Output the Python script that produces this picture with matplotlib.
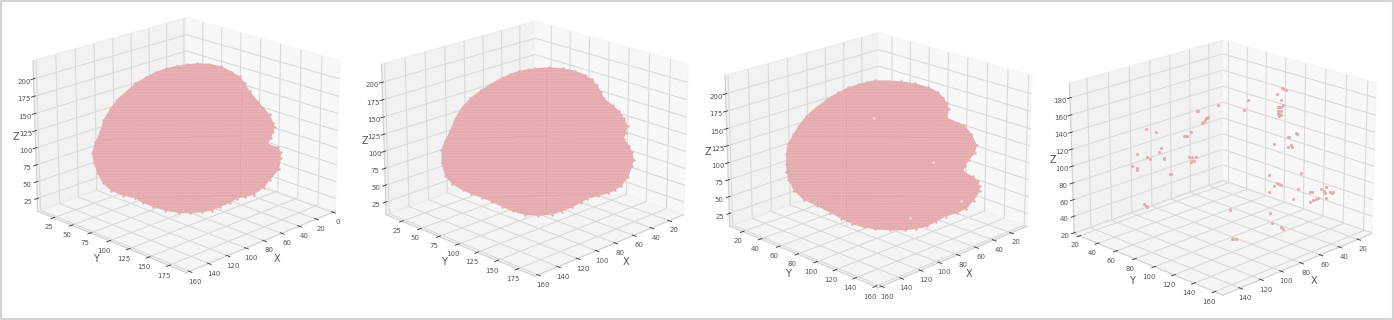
import matplotlib
matplotlib.use("Agg")
import matplotlib.pyplot as plt
from matplotlib.patches import Rectangle
from mpl_toolkits.mplot3d.art3d import Poly3DCollection

W, H = 1394, 320
BLOB_COLOR = "#e5abae"
SPECKLE_COLOR = "#eec6c8"
SEAM_COLOR = "#df9ea2"
TEXT_COLOR = "#555555"

# contours des masses pleines
BLOB1_X = [80, 74, 67, 60, 54, 49, 46, 43, 38, 35, 31, 29, 28, 29, 30, 32, 26, 24, 24, 25, 30, 34, 40, 45, 50, 54, 60, 65, 71, 78, 85, 93, 100, 106, 111, 118, 125, 130, 133, 135, 136, 134, 131, 129, 125, 121, 115, 110, 104, 98, 92, 86]
BLOB1_Y = [100, 106, 113, 120, 126, 131, 134, 137, 142, 145, 149, 151, 152, 151, 150, 148, 154, 156, 156, 155, 150, 146, 140, 135, 130, 126, 120, 115, 109, 102, 95, 87, 80, 74, 69, 62, 55, 50, 47, 45, 44, 46, 49, 51, 55, 59, 65, 70, 76, 82, 88, 94]
BLOB1_Z = [221, 222, 221, 217, 209, 202, 192, 180, 165, 156, 146, 134, 127, 120, 111, 103, 98, 90, 81, 65, 50, 38, 28, 25, 23, 17, 11, 6, 4, 3, 4, 8, 14, 20, 28, 32, 40, 52, 67, 82, 96, 112, 127, 144, 159, 173, 185, 196, 204, 211, 216, 219]

BLOB2_X = [82, 74, 66, 59, 53, 49, 46, 44, 42, 37, 33, 30, 28, 29, 30, 27, 25, 24, 25, 27, 31, 35, 39, 45, 51, 55, 60, 66, 72, 80, 88, 95, 101, 107, 113, 119, 124, 130, 134, 136, 136, 134, 131, 128, 124, 119, 113, 107, 101, 96, 91, 86]
BLOB2_Y = [98, 106, 114, 121, 127, 131, 134, 136, 138, 143, 147, 150, 152, 151, 150, 153, 155, 156, 155, 153, 149, 145, 141, 135, 129, 125, 120, 114, 108, 100, 92, 85, 79, 73, 67, 61, 56, 50, 46, 44, 44, 46, 49, 52, 56, 61, 67, 73, 79, 84, 89, 94]
BLOB2_Z = [219, 220, 218, 214, 208, 201, 192, 183, 173, 163, 154, 143, 132, 122, 113, 103, 93, 82, 72, 57, 43, 37, 33, 29, 26, 20, 14, 8, 4, 3, 5, 11, 18, 26, 33, 39, 45, 55, 67, 86, 105, 118, 132, 150, 166, 179, 190, 199, 207, 212, 216, 218]

BLOB3_X = [84, 77, 70, 63, 56, 51, 48, 46, 45, 46, 37, 33, 30, 31, 34, 36, 37, 32, 29, 28, 28, 31, 35, 40, 46, 51, 56, 62, 68, 76, 84, 90, 96, 102, 108, 115, 122, 127, 130, 131, 131, 131, 130, 127, 124, 120, 115, 109, 103, 98, 92, 88]
BLOB3_Y = [82, 89, 96, 103, 110, 115, 118, 120, 121, 120, 129, 133, 136, 135, 132, 130, 129, 134, 137, 138, 138, 135, 131, 126, 120, 115, 110, 104, 98, 90, 82, 76, 70, 64, 58, 51, 44, 39, 36, 35, 35, 35, 36, 39, 42, 46, 51, 57, 63, 68, 74, 78]
BLOB3_Z = [219, 219, 218, 215, 210, 203, 195, 187, 178, 166, 156, 143, 127, 115, 105, 96, 88, 81, 74, 66, 59, 45, 33, 26, 21, 13, 6, 2, 0, 0, 1, 4, 9, 17, 26, 36, 45, 58, 74, 86, 98, 113, 127, 141, 154, 168, 180, 192, 202, 209, 214, 217]

# trous visibles dans la troisième masse
HOLES3_X = [53, 38, 65, 84.5]
HOLES3_Y = [113, 128, 101, 81.5]
HOLES3_Z = [101.5, 45, 18, 165]

# lignes sombres qui traversent les masses : (x début, x fin, y début, y fin, z début, z fin)
SEAMS1 = [(48, 48, 132, 132, 183, 26), (131, 48, 49, 132, 116, 116), (110, 48, 70, 132, 28, 28)]
SEAMS2 = [(75, 75, 105, 105, 214, 4), (131, 75, 49, 105, 121, 121), (109, 47, 71, 133, 33, 33)]
SEAMS3 = [(99, 99, 67, 67, 204, 6), (127, 37, 39, 129, 138, 138), (106, 35, 60, 131, 50, 50)]

# petits amas du dernier panneau
SPOTS_X = [90.9, 90.1, 89.3, 88.4, 88, 90.4, 88.9, 93.4, 92.9, 82.8, 118.9, 114.1, 96.7, 99.2, 100, 98.7, 111.6, 112.5, 123.9, 118.6, 117.4, 110.5, 110.5, 126.7, 124, 124, 107.5, 107, 97.6, 95.9, 94.2, 96.7, 95.9, 95.1, 120.7, 119.9, 119.2, 76.9, 85.2, 84, 86, 67.8, 70.1, 53.2, 52.4, 51.5, 53.2, 52.4, 51.5, 53.2, 52.4, 51.5, 52.4, 50.4, 51.2, 50.4, 49.2, 53.8, 51.5, 43.7, 43.2, 47.6, 47.1, 54.8, 47.9, 46.2, 45.9, 57.2, 40.8, 53.2, 52.2, 51.2, 57.3, 54.5, 42.6, 44.9, 36.3, 35.5, 30.5, 29.3, 28.8, 26, 25, 24.4, 32.3, 33.3, 34.6, 36, 28.3, 28, 56.7, 55.3, 50.9, 50]
SPOTS_Y = [80.6, 81.4, 82.2, 83.1, 83.5, 81.1, 82.6, 78.1, 78.6, 88.7, 52.6, 57.4, 74.8, 72.3, 71.5, 72.8, 59.9, 59, 47.6, 52.9, 54.1, 61, 61, 44.8, 47.5, 47.5, 64, 64.5, 73.9, 75.6, 77.3, 74.8, 75.6, 76.4, 50.8, 51.6, 52.3, 94.6, 106.3, 107.5, 105.5, 103.7, 101.4, 118.3, 119.1, 120, 118.3, 119.1, 120, 118.3, 119.1, 120, 119.1, 121.1, 120.3, 121.1, 122.3, 117.7, 120, 127.8, 128.3, 123.9, 124.4, 116.7, 123.6, 125.3, 125.6, 114.3, 130.7, 118.3, 119.3, 120.3, 114.2, 117, 128.9, 126.6, 135.2, 136, 141, 142.2, 142.7, 145.5, 146.5, 147.1, 139.2, 138.2, 136.9, 135.5, 143.2, 143.5, 114.8, 116.2, 120.5, 121.5]
SPOTS_Z = [150.6, 152.5, 154.5, 156.4, 158, 151.8, 156.4, 165, 165, 171.3, 144.7, 140.8, 140.8, 135.7, 135.7, 136.1, 122.1, 117.4, 114.3, 111.5, 108.4, 109.6, 108.4, 100.6, 97.8, 95.9, 91.6, 90.8, 111.5, 111.5, 111.5, 105.7, 106.4, 106.4, 54.9, 53.3, 51.8, 47.8, 21.9, 21.1, 21.9, 177.9, 165.8, 168.9, 168.9, 168.9, 165, 165, 164.3, 161.1, 161.1, 159.6, 158.4, 171.3, 191.6, 190.4, 189.3, 184.2, 176.8, 138.9, 137.7, 133.8, 133.8, 126, 122.8, 124.4, 122.8, 90, 91.6, 80.3, 79.1, 77.5, 69.7, 76.4, 72.5, 60.7, 68.5, 68.5, 72.5, 69.7, 67.4, 68.5, 67.4, 68.5, 61.9, 60.3, 58.8, 56.4, 61.9, 74.4, 43.9, 31.4, 26.8, 24.4]

plt.rcParams["font.family"] = "DejaVu Sans"
plt.rcParams["grid.color"] = "#d9d9d9"
plt.rcParams["grid.linewidth"] = 0.8
plt.rcParams["xtick.labelcolor"] = TEXT_COLOR
plt.rcParams["ytick.labelcolor"] = TEXT_COLOR
plt.rcParams["xtick.major.width"] = 0.6
plt.rcParams["ytick.major.width"] = 0.6
plt.rcParams["xtick.color"] = "#333333"
plt.rcParams["ytick.color"] = "#333333"
plt.rcParams["hatch.linewidth"] = 0.3


def make_panel(fig, left, bottom, xlim, ylim, zlim, xticks, yticks, zticks):
    size = 332 / W
    ax = fig.add_axes([left / W, bottom / H, size, size * W / H], projection="3d", computed_zorder=False)
    ax.patch.set_alpha(0)
    ax.view_init(elev=20, azim=45)
    ax.set_xlim(*xlim)
    ax.set_ylim(*ylim)
    ax.set_zlim(*zlim)
    ax.set_xticks(xticks)
    ax.set_yticks(yticks)
    ax.set_zticks(zticks)
    ax.tick_params(labelsize=5, pad=-4)
    ax.set_xlabel("X", fontsize=7, color=TEXT_COLOR, labelpad=-10.5)
    ax.set_ylabel("Y", fontsize=7, color=TEXT_COLOR, labelpad=-10.5)
    ax.set_zlabel("Z", fontsize=7, color=TEXT_COLOR, labelpad=-13)
    for axis in (ax.xaxis, ax.yaxis, ax.zaxis):
        axis.line.set_color("#d0d0d0")
        axis.line.set_linewidth(0.8)
    return ax


def draw_blob(ax, xs, ys, zs, seams):
    shape = Poly3DCollection([list(zip(xs, ys, zs))], facecolors=BLOB_COLOR, edgecolors=SPECKLE_COLOR, linewidths=0, hatch="......", zorder=2)
    ax.add_collection3d(shape)
    ax.scatter(xs, ys, zs, s=3, color=BLOB_COLOR, depthshade=False, linewidths=0, zorder=3)
    for x0, x1, y0, y1, z0, z1 in seams:
        ax.plot([x0, x1], [y0, y1], [z0, z1], color=SEAM_COLOR, linewidth=0.3, zorder=4)


fig = plt.figure(figsize=(W / 100, H / 100), dpi=100)

ax1 = make_panel(fig, 16, 12.5, (-3, 163), (3, 196), (6, 226), range(0, 161, 20), range(25, 176, 25), range(25, 201, 25))
draw_blob(ax1, BLOB1_X, BLOB1_Y, BLOB1_Z, SEAMS1)

ax2 = make_panel(fig, 364.5, 9, (3, 163), (3, 196), (6, 226), range(20, 161, 20), range(25, 176, 25), range(25, 201, 25))
draw_blob(ax2, BLOB2_X, BLOB2_Y, BLOB2_Z, SEAMS2)

ax3 = make_panel(fig, 708, -2.5, (1, 163), (5, 163), (6, 226), range(20, 161, 20), range(20, 161, 20), range(25, 201, 25))
draw_blob(ax3, BLOB3_X, BLOB3_Y, BLOB3_Z, SEAMS3)
ax3.scatter(HOLES3_X, HOLES3_Y, HOLES3_Z, s=3, color="#f5e6e6", depthshade=False, linewidths=0, zorder=5)

ax4 = make_panel(fig, 1052.5, -10, (5, 156), (14, 168), (19, 197), range(20, 141, 20), range(20, 161, 20), range(20, 181, 20))
ax4.scatter(SPOTS_X, SPOTS_Y, SPOTS_Z, s=5, color=BLOB_COLOR, depthshade=False, linewidths=0)

# cadre gris autour de la figure
fig.add_artist(Rectangle((0, 0), 1, 1, transform=fig.transFigure, fill=False, edgecolor="#d4d4d4", linewidth=3))

fig.savefig("out.png", dpi=100)
